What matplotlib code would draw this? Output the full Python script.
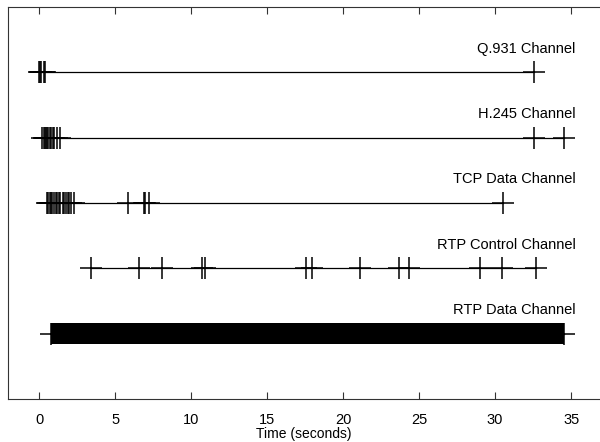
import numpy as np
import matplotlib
matplotlib.use('Agg')
import matplotlib.pyplot as plt

plt.rcParams['font.family'] = ['Liberation Sans', 'DejaVu Sans']

# channel names, top to bottom
channels = ['Q.931 Channel', 'H.245 Channel', 'TCP Data Channel',
            'RTP Control Channel', 'RTP Data Channel']

# packet times (seconds)
q931_times = [-0.03, 0.05, 0.16, 0.3, 0.38, 32.57]
h245_times = [0.22, 0.3, 0.38, 0.45, 0.52, 0.6, 0.7, 0.8, 0.9, 1.0,
              1.16, 1.38, 32.57, 34.54]
tcp_times = [0.55, 0.62, 0.7, 0.8, 0.88, 1.0, 1.1, 1.18, 1.3, 1.4,
             1.55, 1.65, 1.75, 1.9, 2.0, 2.1, 2.28,
             5.85, 6.9, 7.0, 7.25, 30.5]
rtcp_times = [3.4, 6.58, 8.11, 10.74, 10.92, 17.57, 17.95, 21.13, 23.7,
              24.36, 29.0, 30.44, 32.7]
# RTP data: continuous packet stream, too dense to separate -> (start, end)
rtp_data_span = (0.8, 34.5)

fig = plt.figure(figsize=(6.0, 4.42), dpi=100)
ax = fig.add_axes([8/600, 43/442, 592/600, 392/442])

ms = 15.5
ypos = [5, 4, 3, 2, 1]
series = [q931_times, h245_times, tcp_times, rtcp_times]

for y, t in zip(ypos[:4], series):
    ax.plot(t, [y]*len(t), '-', color='black', lw=0.9,
            marker='+', markersize=ms, mew=1.1, mec='black')

# RTP data channel
s, e = rtp_data_span
ax.plot([s, e], [ypos[4]]*2, '-', color='black', lw=0.9,
        marker='+', markersize=ms, mew=1.1, mec='black')
half = (ms/0.72/2) / (392/6)
ax.broken_barh([(s, e - s)], (ypos[4] - half, 2*half), facecolors='black')

for y, name in zip(ypos, channels):
    ax.text(35.3, y + 0.3, name, ha='right', va='baseline', fontsize=10.5)

ax.set_xlim(-2.04, 36.9)
ax.set_ylim(0, 6)
ax.set_yticks([])
ax.set_xticks([0, 5, 10, 15, 20, 25, 30, 35])
ax.tick_params(axis='x', direction='in', length=5, top=True, labelsize=10.5,
               color='#333333', pad=10)
for sp in ax.spines.values():
    sp.set_color('#333333')
    sp.set_linewidth(0.8)
ax.spines['right'].set_visible(False)
ax.set_xlabel('Time (seconds)', fontsize=10, labelpad=0)

fig.savefig('out.png', dpi=100)
